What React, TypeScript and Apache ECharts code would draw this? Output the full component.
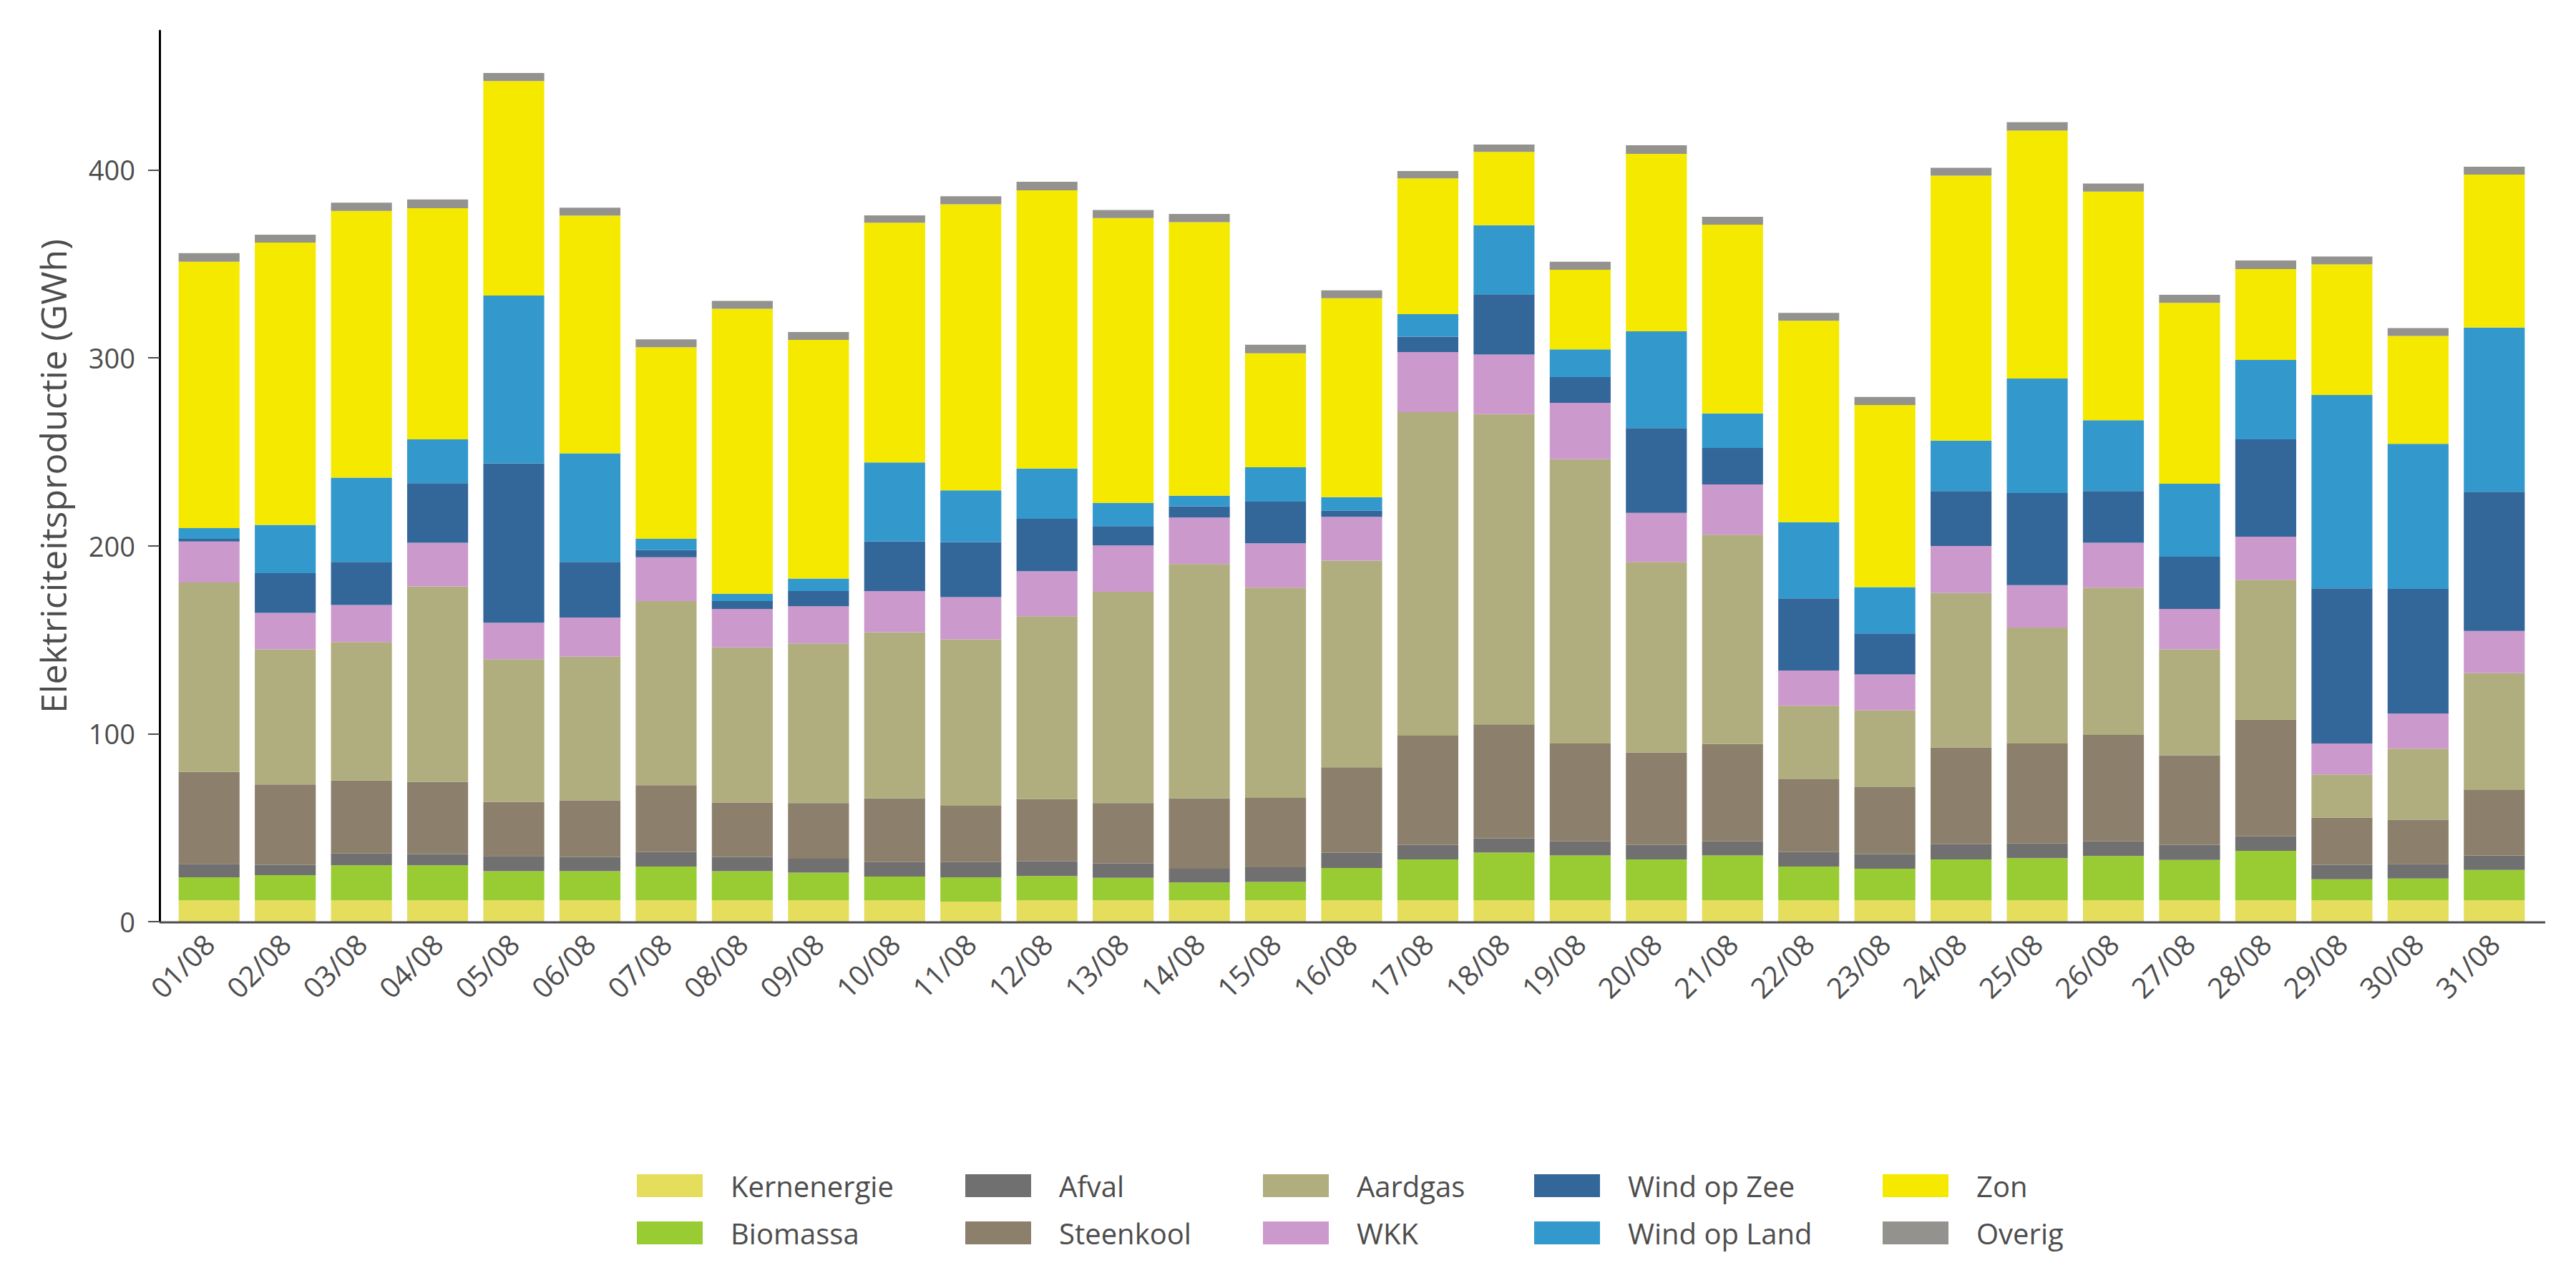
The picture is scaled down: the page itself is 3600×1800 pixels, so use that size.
import React, { useEffect, useRef } from "react";
import * as echarts from "echarts";

const categories = [
  "01/08", "02/08", "03/08", "04/08", "05/08", "06/08", "07/08", "08/08", "09/08", "10/08",
  "11/08", "12/08", "13/08", "14/08", "15/08", "16/08", "17/08", "18/08", "19/08", "20/08",
  "21/08", "22/08", "23/08", "24/08", "25/08", "26/08", "27/08", "28/08", "29/08", "30/08", "31/08",
];

const kernenergie = [11.3, 11.3, 11.3, 11.3, 11.3, 11.3, 11.3, 11.3, 11.3, 11.3, 10.6, 11.3, 11.3, 11.3, 11.3, 11.3, 11.3, 11.3, 11.3, 11.3, 11.3, 11.3, 11.3, 11.3, 11.3, 11.3, 11.3, 11.3, 11.3, 11.3, 11.3];
const biomassa = [12.3, 13.4, 18.7, 18.7, 15.5, 15.5, 18.0, 15.5, 14.8, 12.7, 13.0, 13.0, 12.0, 9.5, 9.8, 17.3, 21.8, 25.4, 23.9, 21.8, 23.9, 18.0, 16.9, 21.8, 22.5, 23.6, 21.5, 26.4, 11.3, 11.6, 16.2];
const afval = [7.1, 5.6, 6.3, 6.0, 8.1, 7.7, 7.7, 7.7, 7.4, 7.7, 8.1, 7.8, 7.7, 7.4, 7.8, 8.1, 7.8, 7.7, 7.5, 7.8, 7.5, 7.7, 7.8, 8.1, 7.8, 7.8, 8.1, 7.8, 7.7, 7.8, 7.7];
const steenkool = [49.0, 42.7, 38.8, 38.4, 28.9, 30.0, 35.6, 28.9, 29.6, 33.9, 30.0, 33.1, 32.1, 37.4, 37.0, 45.4, 58.1, 60.6, 52.1, 49.0, 51.8, 38.8, 35.6, 51.5, 53.2, 56.7, 47.6, 62.0, 25.0, 23.6, 34.9];
const aardgas = [100.8, 71.9, 73.7, 104.0, 75.8, 76.5, 98.0, 82.5, 84.9, 88.4, 88.5, 97.3, 112.4, 124.7, 111.8, 110.0, 172.1, 165.0, 151.2, 101.5, 111.4, 39.1, 40.8, 82.1, 61.7, 78.3, 56.4, 74.4, 23.0, 37.7, 62.1];
const wkk = [21.8, 19.4, 19.7, 23.2, 19.4, 20.8, 23.3, 20.5, 19.8, 21.9, 22.5, 24.0, 24.7, 24.7, 23.6, 23.3, 32.0, 31.7, 30.0, 26.1, 26.7, 18.7, 19.1, 25.1, 22.5, 23.9, 21.5, 22.9, 16.5, 18.7, 22.5];
const windOpZee = [1.4, 21.1, 22.9, 31.7, 84.9, 29.6, 3.8, 4.2, 8.1, 26.4, 29.3, 27.8, 10.2, 6.0, 22.2, 3.2, 8.1, 32.1, 13.7, 45.1, 19.4, 38.4, 21.8, 29.2, 49.1, 27.5, 27.8, 51.8, 82.5, 66.3, 74.0];
const windOpLand = [5.7, 25.7, 44.8, 23.3, 89.2, 57.8, 6.0, 3.9, 6.7, 42.0, 27.5, 26.8, 12.4, 5.6, 18.3, 7.3, 12.0, 36.7, 14.8, 51.5, 18.4, 40.5, 24.7, 26.8, 60.9, 37.7, 38.8, 42.3, 102.9, 77.2, 87.4];
const zon = [141.7, 150.2, 142.0, 123.0, 114.2, 126.5, 101.9, 151.6, 126.9, 127.6, 152.2, 148.0, 151.5, 145.6, 60.6, 105.8, 72.3, 39.1, 42.3, 94.4, 100.4, 107.2, 96.9, 141.0, 131.9, 121.6, 96.2, 48.3, 69.5, 57.4, 81.4];
const overig = [4.6, 4.2, 4.3, 4.6, 4.2, 4.2, 4.2, 4.2, 4.2, 3.9, 4.3, 4.6, 4.3, 4.3, 4.6, 4.2, 3.9, 3.9, 4.3, 4.6, 4.2, 4.2, 4.3, 4.2, 4.5, 4.3, 4.3, 4.6, 4.2, 4.2, 4.2];

const yTicks = [0, 100, 200, 300, 400];

const seriesNames = [
  "Kernenergie", "Biomassa", "Afval", "Steenkool", "Aardgas",
  "WKK", "Wind op Zee", "Wind op Land", "Zon", "Overig",
];
const seriesData = [kernenergie, biomassa, afval, steenkool, aardgas, wkk, windOpZee, windOpLand, zon, overig];
const seriesColors = [
  "#e4de5c", "#99cc33", "#707070", "#8c7f6c", "#b0ae7e",
  "#cc99cc", "#336699", "#3399cc", "#f5e900", "#93928e",
];

const FONT = "'Open Sans', sans-serif";
const TEXT = "#4d4d4d";

export default function App() {
  const ref = useRef<HTMLDivElement>(null);

  useEffect(() => {
    if (!ref.current) return;
    const chart = echarts.init(ref.current, null, { renderer: "svg" });

    const legendCols = [
      { left: 890, names: ["Kernenergie", "Biomassa"] },
      { left: 1349, names: ["Afval", "Steenkool"] },
      { left: 1765, names: ["Aardgas", "WKK"] },
      { left: 2144, names: ["Wind op Zee", "Wind op Land"] },
      { left: 2631, names: ["Zon", "Overig"] },
    ];

    const option: any = {
      animation: false,
      backgroundColor: "#ffffff",
      textStyle: { fontFamily: FONT },
      grid: { left: 239, right: 61, top: 43, bottom: 512, containLabel: false },
      xAxis: {
        type: "category",
        data: categories,
        axisLine: { show: false },
        axisTick: { show: false },
        axisLabel: {
          interval: 0,
          rotate: 45,
          margin: 24,
          color: TEXT,
          fontSize: 40,
          fontFamily: FONT,
        },
      },
      yAxis: {
        type: "value",
        min: 0,
        max: 474,
        interval: 100,
        offset: 16,
        name: "Elektriciteitsproductie (GWh)",
        nameLocation: "middle",
        nameGap: 124,
        nameTextStyle: { color: TEXT, fontSize: 50, fontFamily: FONT },
        axisLine: { show: true, lineStyle: { color: "#000000", width: 3 } },
        axisTick: {
          show: true,
          length: 16,
          customValues: yTicks,
          lineStyle: { color: TEXT, width: 2 },
        },
        axisLabel: {
          customValues: yTicks,
          margin: 34,
          color: TEXT,
          fontSize: 38,
          fontFamily: FONT,
        },
        splitLine: { show: false },
      },
      legend: legendCols.map((c) => ({
        left: c.left,
        top: 1637,
        orient: "vertical",
        data: c.names,
        icon: "rect",
        itemWidth: 92,
        itemHeight: 32,
        itemGap: 26,
        padding: 0,
        selectedMode: false,
        textStyle: {
          color: TEXT,
          fontSize: 40,
          lineHeight: 40,
          fontFamily: FONT,
          padding: [0, 0, 0, 34],
        },
      })),
      graphic: [
        {
          type: "line",
          z: 100,
          shape: { x1: 223, y1: 1289, x2: 3557, y2: 1289 },
          style: { stroke: TEXT, lineWidth: 3 },
        },
      ],
      series: seriesNames.map((name, i) => ({
        name,
        type: "bar",
        stack: "total",
        data: seriesData[i],
        barWidth: "80%",
        itemStyle: { color: seriesColors[i] },
        emphasis: { disabled: true },
      })),
    };

    chart.setOption(option);
    return () => chart.dispose();
  }, []);

  return (
    <div
      ref={ref}
      style={{ position: "fixed", left: 0, top: 0, width: 3600, height: 1800, background: "#fff" }}
    />
  );
}
